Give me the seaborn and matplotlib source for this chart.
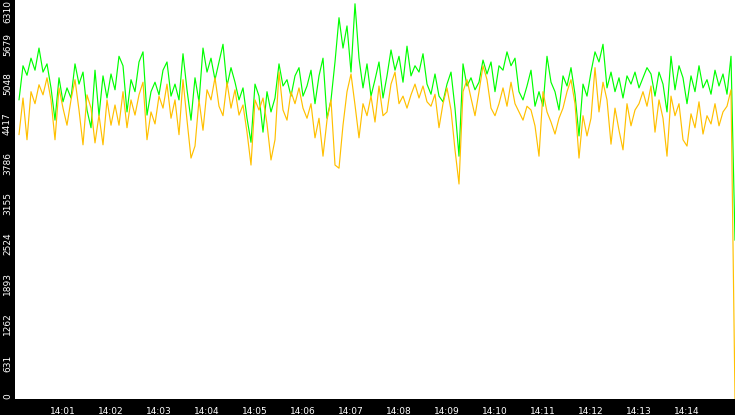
#!/usr/bin/env python3
"""Two-series traffic trace, 14:00-14:15, rendered MRTG style."""

import pandas as pd
import matplotlib
matplotlib.use("Agg")
import matplotlib.pyplot as plt
import matplotlib.dates as mdates
import matplotlib.transforms as mtransforms
import seaborn as sns

# samples every 5 s starting 14:00:05
start_time = "2024-01-01 14:00:05"
sample_step = "5s"

green_vals = [
    4730, 5270, 5120, 5390, 5200, 5550, 5170, 5300, 4920, 4410,
    5080, 4700, 4920, 4760, 5300, 4980, 5170, 4570, 4290, 5200,
    4480, 5110, 4760, 5140, 4890, 5420, 5270, 4540, 5050, 4860,
    5330, 5490, 4490, 4860, 5010, 4810, 5200, 5330, 4790, 4980,
    4730, 5460, 4890, 4410, 5080, 4700, 5550, 5170, 5390, 5050,
    5330, 5610, 4950, 5240, 5010, 4730, 4920, 4440, 4060, 4980,
    4790, 4220, 4860, 4540, 4760, 5300, 4950, 5050, 4790, 5110,
    5240, 4790, 4950, 5200, 4670, 5110, 5390, 4440, 4730, 5330,
    6030, 5550, 5900, 5170, 6250, 5390, 4920, 5300, 4790, 5050,
    5330, 4760, 5110, 5520, 5200, 5420, 5010, 5580, 5110, 5270,
    5170, 5460, 4980, 4820, 5140, 4790, 4700, 4980, 5170, 4600,
    3840, 5300, 4950, 5080, 4890, 5010, 5360, 5140, 5330, 4860,
    5270, 5200, 5490, 5270, 5390, 4860, 4730, 4950, 5200, 4630,
    4860, 4630, 5420, 5010, 4860, 4570, 5110, 4950, 5240, 4820,
    4160, 4980, 4790, 5170, 5490, 5330, 5610, 4920, 5170, 4860,
    5080, 4760, 5110, 4980, 5170, 4920, 5080, 5240, 5140, 4790,
    5170, 4980, 4540, 5420, 4890, 5270, 5080, 4670, 5110, 4860,
    5270, 4920, 5050, 4820, 5200, 4950, 5140, 4820, 5420, 2510,
]

orange_vals = [
    4180, 4760, 4100, 4860, 4670, 4970, 4810, 5080, 4730, 4100,
    4920, 4600, 4330, 4730, 5050, 4570, 4020, 4810, 4600, 4050,
    4490, 4020, 4730, 4330, 4650, 4330, 4860, 4290, 4730, 4490,
    4810, 5010, 4100, 4540, 4350, 4790, 4600, 4980, 4440, 4730,
    4180, 5050, 4410, 3810, 4000, 4730, 4250, 4890, 4730, 5080,
    4630, 4480, 5010, 4600, 4890, 4490, 4650, 4220, 3700, 4730,
    4570, 4760, 4350, 3780, 4100, 5170, 4570, 4410, 4860, 4670,
    4920, 4600, 4440, 4670, 4130, 4440, 3840, 4410, 4730, 3700,
    3650, 4330, 4860, 5140, 4650, 4130, 4670, 4480, 4790, 4380,
    4950, 4480, 4540, 4980, 5170, 4670, 4790, 4600, 4810, 4980,
    4760, 4950, 4700, 4630, 4820, 4290, 4670, 4920, 4570, 3940,
    3400, 4860, 5050, 4760, 4480, 4860, 5270, 5050, 4600, 4480,
    4670, 4920, 4630, 5010, 4670, 4540, 4410, 4630, 4570, 4320,
    3840, 4860, 4540, 4380, 4190, 4440, 4600, 4860, 5050, 4670,
    3810, 4480, 4160, 4440, 5240, 4540, 5010, 4730, 4030, 4600,
    4250, 3940, 4670, 4320, 4570, 4670, 4860, 4630, 4950, 4220,
    4730, 4440, 3840, 4790, 4480, 4670, 4100, 4000, 4510, 4290,
    4700, 4190, 4480, 4350, 4670, 4320, 4540, 4630, 4890, 0,
]

y_ticks = [0, 631, 1262, 1893, 2524, 3155, 3786, 4417, 5048, 5679, 6310]
y_tick_labels = ["0", "631", "1262", "1893", "2524", "3155",
                 "3786", "4417", "5048", "5679", "6310"]

x_start = "2024-01-01 14:00:00"
x_end = "2024-01-01 14:15:00"

GREEN = "#00ff00"
ORANGE = "#ffc000"

times = pd.date_range(start_time, periods=len(green_vals), freq=sample_step)
df = pd.DataFrame({"time": times, "green": green_vals, "orange": orange_vals})

sns.set_style("white")
plt.rcParams["font.family"] = ["DejaVu Sans"]

fig = plt.figure(figsize=(7.35, 4.15), dpi=100, facecolor="black")
ax = fig.add_axes([15 / 735, 16 / 415, 720 / 735, 399 / 415])
ax.set_facecolor("white")

sns.lineplot(data=df, x="time", y="green", color=GREEN, estimator=None, ax=ax)
sns.lineplot(data=df, x="time", y="orange", color=ORANGE, estimator=None, ax=ax)

for line in ax.lines:
    line.set_linewidth(0.85)

ax.set_xlim(pd.Timestamp(x_start), pd.Timestamp(x_end))
ax.set_ylim(0, 6310)
ax.xaxis.set_major_locator(mdates.MinuteLocator(byminute=range(1, 15)))
ax.xaxis.set_major_formatter(mdates.DateFormatter("%H:%M"))
ax.set_yticks(y_ticks, y_tick_labels, rotation=90, va="center")

ax.tick_params(axis="both", colors="white", labelsize=6.5, width=1,
               direction="out")
ax.tick_params(axis="y", length=2.2, pad=0)
ax.tick_params(axis="x", length=4, pad=1.5)
ax.set_xlabel("")
ax.set_ylabel("")
for s in ax.spines.values():
    s.set_visible(False)

# rrd puts the rotated labels a little below their ticks
ylabels = ax.get_yticklabels()
shift = mtransforms.ScaledTranslation(0, -3 / 72, fig.dpi_scale_trans)
for lab in ylabels[1:-1]:
    lab.set_transform(lab.get_transform() + shift)
ylabels[-1].set_va("top")
ylabels[0].set_va("bottom")

fig.savefig("out.png", dpi=100, facecolor="black")
